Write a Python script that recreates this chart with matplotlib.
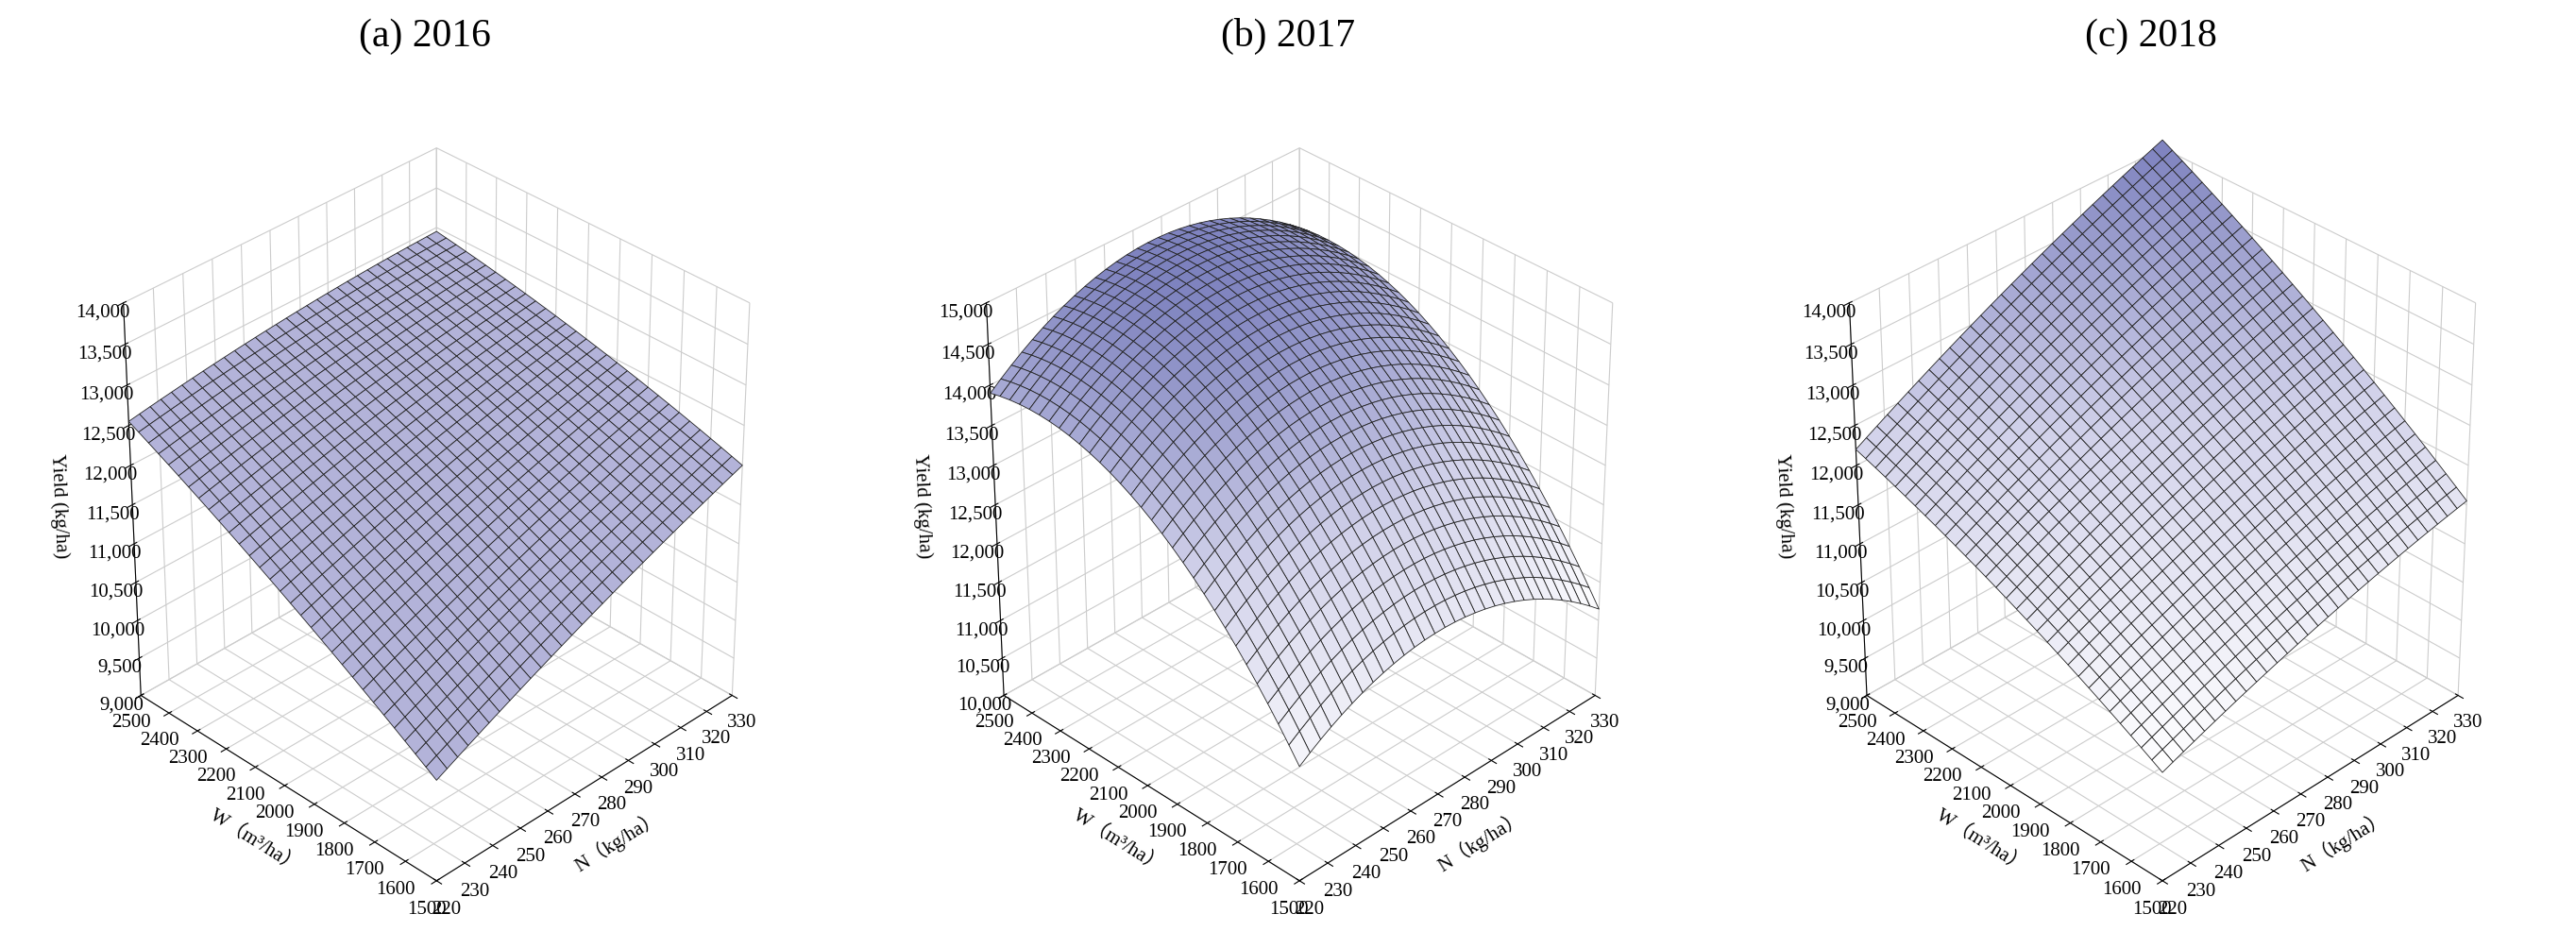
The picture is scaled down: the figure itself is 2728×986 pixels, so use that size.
import numpy as np
import matplotlib
matplotlib.use("Agg")
import matplotlib.pyplot as plt
from matplotlib.colors import LinearSegmentedColormap
from matplotlib.ticker import FuncFormatter

plt.rcParams['font.family'] = ['Liberation Serif', 'Noto Sans CJK SC']

titles = ["(a) 2016", "(b) 2017", "(c) 2018"]
w_ticks = [1500, 1600, 1700, 1800, 1900, 2000, 2100, 2200, 2300, 2400, 2500]
n_ticks = [220, 230, 240, 250, 260, 270, 280, 290, 300, 310, 320, 330]
z_lims = [(9000, 14000), (10000, 15000), (9000, 14000)]

# fitted response-surface coefficients
# yield = c0 + c1*u + c2*u^2 + c3*v + c4*v^2 + c5*u*v,  u = (W-1500)/1000, v = (N-220)/110
coef_2016 = [10300, 2600, -350, 2000, -300, -1300]
coef_2017 = [11475, 5889, -3464, 2925, -3250, 425]
coef_2018 = [10400, 2300, -500, 1550, -400, 750]
coefs = [coef_2016, coef_2017, coef_2018]

cmap = LinearSegmentedColormap.from_list("lav", ["#ffffff", "#d2d2ea", "#7378b9"])

W = np.linspace(1500, 2500, 31)
N = np.linspace(220, 330, 31)
NN, WW = np.meshgrid(N, W)
u = (WW - 1500) / 1000
v = (NN - 220) / 110

fig = plt.figure(figsize=(27.28, 9.87), dpi=100)
lefts = [0.0, 0.335, 0.67]
for i in range(3):
    ax = fig.add_axes([lefts[i], -0.03, 0.33, 0.95], projection='3d')
    c = coefs[i]
    Z = c[0] + c[1]*u + c[2]*u**2 + c[3]*v + c[4]*v**2 + c[5]*u*v
    if i == 0:
        ax.plot_surface(NN, WW, Z, color='#b3b3d9', edgecolor='#222222', linewidth=0.6,
                        rstride=1, cstride=1, shade=False)
    else:
        ax.plot_surface(NN, WW, Z, cmap=cmap, vmin=Z.min(), vmax=Z.max() + 200,
                        edgecolor='#222222', linewidth=0.6, rstride=1, cstride=1)
    ax.view_init(elev=34, azim=-135)
    ax.set_xlim(220, 330)
    ax.set_ylim(1500, 2500)
    ax.set_zlim(*z_lims[i])
    ax.set_xticks(n_ticks)
    ax.set_yticks(w_ticks)
    ax.set_zticks(np.arange(z_lims[i][0], z_lims[i][1] + 1, 500))
    ax.zaxis.set_major_formatter(FuncFormatter(lambda x, p: f"{int(x):,}"))
    ax.tick_params(labelsize=15, pad=3)
    ax.set_xlabel("N（kg/ha）", fontsize=15, labelpad=12)
    ax.set_ylabel("W（m³/ha）", fontsize=15, labelpad=12)
    ax.set_zlabel("Yield (kg/ha)", fontsize=15, labelpad=20)
    for axis in (ax.xaxis, ax.yaxis, ax.zaxis):
        axis.set_pane_color((1, 1, 1, 1))
        axis._axinfo['grid']['color'] = '#cccccc'
        axis._axinfo['grid']['linewidth'] = 0.8
    ax.set_box_aspect((1, 1, 1.1), zoom=0.88)
    fig.text(lefts[i] + 0.165, 0.95, titles[i], ha='center', fontsize=30)

fig.savefig("out.png", dpi=100)
